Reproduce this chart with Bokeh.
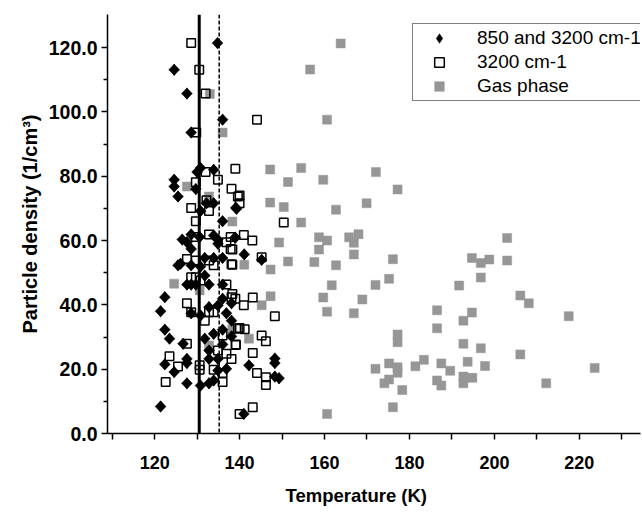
import numpy as np
from bokeh.plotting import figure
from bokeh.models import (Span, Legend, LegendItem, FixedTicker, PrintfTickFormatter,
                          Range1d, Title)
from bokeh.embed import file_html
from bokeh.resources import INLINE

# ---- data (temperature K, particle density 1/cm^3) ----
both_T = [134.8, 124.6, 127.6, 136.0, 128.6,
          130.0, 130.8, 133.9, 124.6, 124.6, 125.5, 129.7, 139.3, 130.8, 132.2, 133.9, 136.0,
          128.6, 126.5, 127.6, 130.6, 133.9, 134.9, 139.0, 134.9, 128.6, 126.1, 125.5, 128.6,
          131.8, 133.9, 136.0, 130.8, 127.6, 128.6, 129.7, 132.8, 131.8, 136.0,
          122.4, 121.4, 128.6, 130.8, 132.8, 134.9, 136.0, 138.1, 136.9, 138.1, 122.4, 123.5,
          126.7, 131.8, 133.9, 136.0, 138.1, 136.0, 132.8, 134.9, 122.4, 127.6, 127.6, 124.6,
          132.8, 134.9, 136.9, 127.6, 130.8, 132.8, 133.9, 121.4,
          139.1, 138.9, 141.1, 145.2, 148.3, 148.3, 142.2, 148.3, 149.3, 141.0]
both_D = [121.4, 113.1, 105.7, 97.6, 93.6,
          81.3, 82.6, 82.0, 78.9, 76.8, 73.7, 76.0, 69.9, 69.2, 71.6, 71.6, 66.0,
          61.9, 60.3, 59.5, 61.1, 61.6, 60.3, 60.9, 59.0, 57.4, 52.8, 52.3, 52.3,
          54.6, 54.6, 54.6, 51.9, 46.3, 46.3, 46.3, 46.3, 49.1, 46.3,
          42.4, 38.0, 37.4, 36.7, 39.3, 39.8, 41.9, 40.5, 37.4, 35.1, 32.3, 29.5,
          27.9, 29.5, 31.0, 32.3, 30.2, 27.7, 25.8, 23.2, 21.5, 23.2, 21.9, 19.1,
          23.2, 19.6, 20.1, 15.6, 14.9, 15.6, 16.5, 8.4,
          70.2, 60.9, 55.7, 54.0, 23.3, 21.9, 21.2, 17.7, 17.2, 6.1]

ir_T = [128.6, 130.5, 132.0, 129.8, 132.0, 139.0, 129.7, 134.9, 138.1, 139.6, 128.6, 132.8,
        132.2, 129.7, 129.7, 132.8, 137.9, 137.9, 136.9, 127.6, 129.7, 132.8, 133.9, 138.1,
        128.6, 129.7, 130.8, 136.9,
        127.6, 128.6, 131.8, 132.8, 133.9, 138.1, 139.6, 127.6, 136.0, 139.1, 134.9, 136.9,
        138.1, 123.5, 125.5, 130.6, 130.6, 133.9, 136.0, 122.6, 136.0,
        140.0, 150.4, 141.0, 143.0, 138.3, 145.2, 138.3, 138.3, 139.0, 143.1, 141.0, 148.3,
        140.0, 141.2, 145.2, 146.2, 139.1, 143.1, 144.1, 146.2, 146.2, 143.1, 140.0, 144.1, 140.0]
ir_D = [121.4, 113.1, 105.7, 93.6, 81.3, 82.3, 78.1, 78.9, 76.1, 73.7, 70.1, 69.2,
        72.5, 66.0, 61.1, 61.9, 61.1, 57.4, 59.5, 54.3, 53.8, 53.8, 52.3, 52.6,
        48.6, 48.6, 47.6, 46.3,
        40.5, 37.7, 35.1, 37.7, 37.7, 42.4, 32.6, 27.9, 30.5, 27.7, 25.8, 24.8,
        23.2, 24.0, 20.8, 21.2, 19.8, 19.8, 18.8, 16.0, 16.0,
        71.6, 65.6, 61.7, 60.0, 57.2, 54.8, 52.5, 43.4, 41.9, 42.3, 39.9, 36.5,
        32.8, 32.4, 30.5, 28.7, 27.5, 25.0, 18.8, 17.5, 15.1, 8.2, 6.1, 97.6, 74.0]

gas_T = [163.8, 156.6, 160.6, 147.2, 154.5, 151.4, 159.7, 172.1, 177.2, 147.2, 150.4, 169.9,
         162.7, 154.5, 138.3, 149.3, 158.7, 160.6, 165.8, 168.0, 166.9, 158.7, 166.9, 141.1,
         147.3, 151.4, 157.6, 162.7, 176.1, 161.7, 172.0, 175.2, 147.3, 145.2, 159.7, 168.9,
         160.6, 166.9, 142.2, 138.3, 177.2, 177.2, 172.0, 175.2, 177.2, 177.2, 175.2, 174.1,
         178.3, 181.4, 183.4, 176.1, 160.6,
         203.0, 194.7, 196.8, 198.8, 203.0, 196.8, 191.7, 206.1, 208.1, 186.5, 194.7, 192.7,
         217.5, 186.5, 192.7, 196.8, 187.5, 189.6, 193.7, 197.8, 206.1, 223.6, 186.5, 187.5,
         192.7, 192.7, 194.8, 212.2,
         133.0, 136.0, 127.6, 132.8, 124.6, 132.8, 130.6]
gas_D = [121.3, 113.2, 97.6, 82.1, 82.6, 78.2, 78.9, 81.3, 75.9, 71.8, 70.4, 71.6,
         69.6, 65.6, 65.9, 59.4, 61.0, 60.0, 61.0, 62.0, 59.3, 57.2, 55.7, 52.5,
         51.0, 53.5, 53.3, 52.3, 54.2, 46.1, 46.2, 48.1, 42.7, 39.9, 42.3, 41.7,
         37.9, 37.4, 29.5, 32.4, 30.8, 28.4, 20.1, 21.8, 20.6, 18.9, 16.8, 15.6,
         13.5, 20.9, 22.9, 8.2, 6.1,
         60.8, 54.6, 53.0, 54.1, 53.8, 48.5, 46.0, 42.9, 40.5, 38.3, 37.6, 35.1,
         36.5, 32.7, 27.9, 26.5, 21.8, 19.5, 22.3, 21.0, 24.6, 20.4, 16.5, 14.9,
         17.7, 15.6, 17.3, 15.6,
         105.6, 93.6, 76.8, 73.7, 46.6, 27.4, 44.5]

series_labels = ["850 and 3200 cm-1", "3200 cm-1", "Gas phase"]
x_title = "Temperature (K)"
y_title = "Particle density (1/cm³)"
solid_line_T = 130.5
dashed_line_T = 135.2
x_major = [120, 140, 160, 180, 200, 220]
x_minor = [110, 130, 150, 170, 190, 210, 230]
y_major = [0, 20, 40, 60, 80, 100, 120]
y_minor = [10, 30, 50, 70, 90, 110]

FONT = "Liberation Sans"

p = figure(width=642, height=517, output_backend="svg", toolbar_location=None,
           x_range=Range1d(108.9, 234.4), y_range=Range1d(0, 130.3),
           min_border_left=107, min_border_right=2, min_border_top=14, min_border_bottom=84)
p.outline_line_color = None
p.xgrid.grid_line_color = None
p.ygrid.grid_line_color = None

r_gas = p.scatter(gas_T, gas_D, marker="square", size=9, fill_color="#969696",
                  line_color="#969696", line_width=0.5)
r_ir = p.scatter(ir_T, ir_D, marker="square", size=8.5, fill_alpha=0, line_color="black",
                 line_width=1.5)
# legend swatch for the diamonds (legend glyphs ignore marker angle); hidden under the rhombi
r_both_key = p.scatter(both_T, both_D, marker="diamond", size=11.5, fill_color="black",
                       line_color="black", line_width=0.5)
r_both = p.scatter(both_T, both_D, marker="square", angle=np.pi / 4, size=7.7,
                   fill_color="black", line_color="black", line_width=0.5)

p.add_layout(Span(location=solid_line_T, dimension="height", line_color="black", line_width=3))
p.add_layout(Span(location=dashed_line_T, dimension="height", line_color="black",
                  line_width=1.5, line_dash="4 2"))

for ax in (p.xaxis[0], p.yaxis[0]):
    ax.axis_line_width = 1.5
    ax.major_tick_line_width = 1.5
    ax.minor_tick_line_width = 1.5
    ax.major_tick_in = 0
    ax.minor_tick_in = 0
    ax.major_label_text_font = FONT
    ax.major_label_text_font_style = "bold"
    ax.major_label_text_color = "black"

p.xaxis.ticker = FixedTicker(ticks=x_major, minor_ticks=x_minor)
p.xaxis.major_tick_out = 6
p.xaxis.minor_tick_out = 6
p.xaxis.major_label_standoff = 16
p.xaxis.major_label_text_font_size = "18px"

p.yaxis.ticker = FixedTicker(ticks=y_major, minor_ticks=y_minor)
p.yaxis.formatter = PrintfTickFormatter(format="%.1f")
p.yaxis.major_tick_out = 6
p.yaxis.minor_tick_out = 4
p.yaxis.major_label_standoff = 4
p.yaxis.major_label_text_font_size = "19.5px"

p.add_layout(Title(text=x_title, align="left", offset=178, standoff=22,
                   text_font=FONT, text_font_style="bold", text_font_size="18.5px",
                   text_color="black"), "below")
p.add_layout(Title(text=y_title, align="center", offset=6, standoff=10,
                   text_font=FONT, text_font_style="bold", text_font_size="20px",
                   text_color="black"), "left")

legend = Legend(items=[LegendItem(label=series_labels[0], renderers=[r_both_key]),
                       LegendItem(label=series_labels[1], renderers=[r_ir]),
                       LegendItem(label=series_labels[2], renderers=[r_gas])],
                location=(305, 332), orientation="vertical",
                border_line_color="black", border_line_width=1.5,
                background_fill_color="white", background_fill_alpha=1,
                label_text_font=FONT, label_text_font_size="19px", label_text_color="black",
                padding=2, spacing=0, margin=0,
                glyph_width=48, glyph_height=24, label_height=24, label_standoff=14)
p.add_layout(legend)

open("out.html", "w").write(file_html(p, INLINE))
